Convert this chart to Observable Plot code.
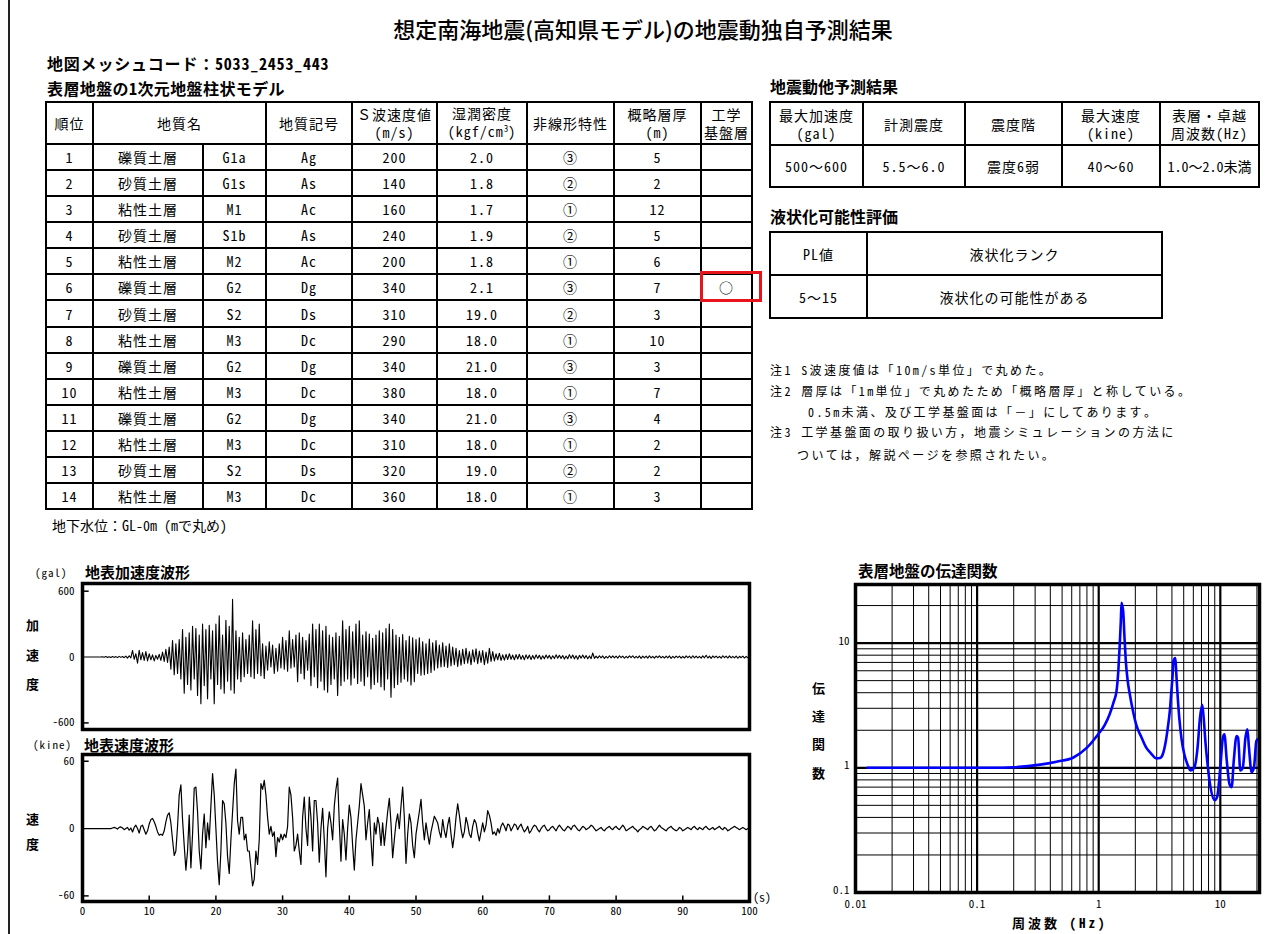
<!DOCTYPE html>
<html lang="ja"><head><meta charset="utf-8">
<script src="https://cdn.jsdelivr.net/npm/d3@7"></script>
<script src="https://cdn.jsdelivr.net/npm/@observablehq/plot@0.6"></script>
<style>
html,body{margin:0;padding:0;background:#fff}
body{width:1280px;height:934px;position:relative;overflow:hidden;color:#000;
 font-family:"Noto Sans Mono CJK JP","Noto Sans CJK JP","Noto Sans",sans-serif}
.t{position:absolute;white-space:pre;line-height:1;transform:translateY(-50%)}
.c{position:absolute;box-sizing:border-box;border:2px solid #000;display:flex;align-items:center;justify-content:center;text-align:center;font-size:14px;line-height:18px;letter-spacing:1px;white-space:nowrap}
.c span.l{display:block;line-height:18px}
.p{position:absolute}
.sup{position:relative;top:-5px;font-size:9px;letter-spacing:0}
</style></head><body>
<script>
// ---------------- data ----------------
const layerRank = [1,2,3,4,5,6,7,8,9,10,11,12,13,14];
const soilName = ["礫質土層","砂質土層","粘性土層","砂質土層","粘性土層","礫質土層","砂質土層","粘性土層","礫質土層","粘性土層","礫質土層","粘性土層","砂質土層","粘性土層"];
const soilCode = ["G1a","G1s","M1","S1b","M2","G2","S2","M3","G2","M3","G2","M3","S2","M3"];
const geoSymbol = ["Ag","As","Ac","As","Ac","Dg","Ds","Dc","Dg","Dc","Dg","Dc","Ds","Dc"];
const vsValue = [200,140,160,240,200,340,310,290,340,380,340,310,320,360];
const density = ["2.0","1.8","1.7","1.9","1.8","2.1","19.0","18.0","21.0","18.0","21.0","18.0","19.0","18.0"];
const nonlinear = ["③","②","①","②","①","③","②","①","③","①","③","①","②","①"];
const thickness = [5,2,12,5,6,7,3,10,3,7,4,2,2,3];
const baseLayer = ["","","","","","○","","","","","","","",""];
const layerHeaders = [["順位"],["地質名"],["地質記号"],["Ｓ波速度値","(m/s)"],["湿潤密度","(kgf/cm<span class=\"sup\">3</span>)"],["非線形特性"],["概略層厚","(m)"],["工学","基盤層"]];

const resultHeaders = [["最大加速度","(gal)"],["計測震度"],["震度階"],["最大速度","(kine)"],["表層・卓越","周波数(Hz)"]];
const resultValues = ["500～600","5.5～6.0","震度6弱","40～60","1.0～2.0未満"];
const liqHeaders = ["PL値","液状化ランク"];
const liqValues = ["5～15","液状化の可能性がある"];
const notes = [
 "注1 S波速度値は「10m/s単位」で丸めた。",
 "注2 層厚は「1m単位」で丸めたため「概略層厚」と称している。",
 "0.5m未満、及び工学基盤面は「－」にしてあります。",
 "注3 工学基盤面の取り扱い方，地震シミュレーションの方法に",
 "ついては，解説ページを参照されたい。"
];

// surface acceleration waveform (gal), sampled every 0.25 s
const accDt = 0.25;
const accel = [
 0,0,0,0,0,0,0,0,0,0,0,0,3,-2,4,-3,2,-4,5,-3,
 4,-5,6,-3,5,-6,8,-10,12,-8,60,-20,30,-55,62,-25,40,-30,50,-35,
 30,-25,20,-35,15,-20,25,-30,45,-40,70,-50,90,-110,150,-160,120,-150,160,-200,
 250,-330,180,-250,220,-300,280,-200,260,-350,200,-425,300,-260,250,-380,290,-200,240,-425,
 300,-250,375,-290,200,-330,335,-220,280,-300,525,-330,240,-200,180,-225,220,-180,160,-150,
 200,-180,330,-195,250,-150,300,-170,120,-195,100,-120,140,-90,110,-150,80,-130,120,-100,
 180,-110,150,-130,240,-100,160,-90,200,-225,220,-150,180,-200,150,-120,210,-260,300,-180,
 250,-280,300,-220,240,-300,280,-320,200,-250,180,-200,220,-350,190,-260,330,-220,250,-200,
 280,-255,230,-190,300,-240,330,-220,200,-260,230,-180,210,-290,170,-250,200,-230,240,-270,
 220,-300,260,-200,300,-365,250,-280,200,-250,180,-230,205,-200,150,-220,190,-255,175,-225,
 160,-150,175,-165,140,-160,120,-150,165,-140,130,-120,150,-100,110,-90,130,-85,100,-95,
 120,-80,90,-70,80,-85,60,-75,70,-60,80,-55,50,-70,65,-45,75,-60,55,-50,
 60,-70,45,-55,80,-40,50,-35,30,-25,35,-30,20,-28,25,-22,30,-20,18,-25,
 22,-18,25,-20,15,-24,20,-15,18,-22,14,-18,20,-12,16,-20,12,-15,18,-10,
 15,-18,12,-14,20,-10,16,-12,14,-18,10,-15,22,-12,18,-16,12,-20,15,-10,
 18,-12,14,-16,10,-14,37,-12,8,-10,12,-8,10,-12,6,-9,12,-8,10,-7,
 8,-10,12,-6,9,-11,7,-8,10,-6,12,-9,6,-8,10,-12,8,-7,9,-10,
 12,-8,7,-10,9,-6,11,-8,6,-9,8,-7,10,-12,7,-8,9,-6,8,-10,
 7,-9,10,-6,8,-11,12,-7,9,-8,6,-10,11,-7,16,-9,8,-12,10,-6,
 9,-8,7,-10,12,-6,8,-9,10,-7,6,-8,9,-11,7,-6,8,-9,6,-7,
 0
];

// surface velocity waveform (kine), sampled every 0.25 s
const velDt = 0.25;
const velocity = [
 0,0,0,0,0,0,0,0,0,0,0,0,0,0,0,0,0,0,0.5,1,
 0.5,-0.5,1,1.5,0.5,-1,0,1,-1.5,0.5,-3,1,3,0,-4,2,3,-1,-5,-2,
 4,8,9,6,2,-3,-6,-5,-6,-2,6,12,14,5,-10,-24,-20,2,30,39,
 8,-15,-37,-20,12,-35,-5,36,37,15,-20,-36,-5,13,-17,5,-10,20,49,30,
 0,-30,-50,-20,25,22,5,-25,-40,-10,15,40,53,7,-5,10,10,-10,-5,-20,
 -20,-35,-51,-45,-20,-32,-10,40,35,43,30,10,-5,2,-7,-3,-25,-8,-12,-5,
 -10,-5,-8,2,37,30,10,-20,-15,-5,-20,-32,10,28,0,-15,28,10,-20,25,
 25,5,-30,0,18,-10,-43,0,15,5,-10,20,35,45,5,-29,8,-5,-28,0,
 21,10,-15,-37,-10,5,20,40,30,20,-10,5,17,-10,-33,5,-5,10,3,-15,
 5,-15,0,15,27,5,-26,-10,5,13,0,20,37,10,-31,-5,13,5,-15,-26,
 -5,5,15,26,5,-10,5,-5,-14,-3,4,11,8,5,-3,-8,8,-2,-8,3,
 10,-5,-17,-6,10,22,12,0,-8,-3,10,4,-5,-8,2,8,5,-4,-11,-3,
 5,-3,3,16,12,5,-5,-3,-6,0,-4,2,5,2,-2,4,3,-2,1,4,
 3,-1,2,4,0,-3,-1,2,-4,-2,1,3,2,-1,-3,0,2,3,0,-2,
 -1,1,2,0,-2,1,3,1,-1,-2,0,2,1,-1,2,3,1,-1,-2,0,
 2,1,-1,0,1,3,2,0,-2,-1,0,1,-1,-2,0,1,2,0,-1,1,
 2,0,-1,1,3,1,-2,-1,0,1,2,0,-1,-3,-1,0,2,1,0,-1,
 1,2,0,-2,-1,1,3,1,0,-1,-2,0,1,2,0,-1,-2,-1,1,0,
 -2,-1,0,1,0,-1,1,2,0,-1,1,0,-1,1,2,0,-1,0,1,-1,
 0,1,2,0,-1,1,0,-2,-1,0,1,2,1,0,-1,0,1,0,-1,0,
 0
];

// transfer function of surface ground: [frequency Hz, amplitude]
const transfer = [
 [0.0125,1],[0.02,1],[0.05,1],[0.1,1],[0.13,1],[0.2,1.01],[0.33,1.06],[0.45,1.12],[0.62,1.21],[0.8,1.45],
 [0.99,1.86],[1.12,2.2],[1.23,2.69],[1.33,3.4],[1.40,4.1],[1.45,6.0],[1.49,9.8],[1.52,15],[1.54,21],[1.56,20],
 [1.59,18],[1.63,11],[1.67,7.2],[1.73,5.0],[1.80,3.9],[1.92,2.8],[2.04,2.2],[2.25,1.75],[2.46,1.45],[2.7,1.3],
 [2.97,1.19],[3.2,1.2],[3.37,1.29],[3.55,1.6],[3.70,2.1],[3.85,2.9],[3.94,3.9],[4.05,5.5],[4.12,7.2],[4.25,7.6],
 [4.38,5.0],[4.48,3.5],[4.6,2.5],[4.8,1.7],[5.05,1.29],[5.4,1.05],[5.7,0.95],[6.1,1.0],[6.5,1.45],[6.8,2.5],
 [7.1,3.2],[7.3,2.5],[7.55,1.6],[7.8,1.14],[8.3,0.70],[9.0,0.55],[9.4,0.58],[10.0,1.0],[10.5,1.75],[10.8,1.86],
 [11.3,1.14],[11.9,0.74],[12.4,0.70],[12.9,1.14],[13.6,1.8],[14.0,1.75],[14.6,0.95],[15.3,1.0],[16.1,1.75],[16.7,2.04],
 [17.2,1.45],[18.1,0.92],[18.9,1.0],[19.8,1.64],[20.4,1.7]
];

// axis ticks / grid values
const accTicks = [600,0,-600];
const velTicks = [60,0,-60];
const timeTicks = [0,10,20,30,40,50,60,70,80,90,100];
const freqMajor = [0.1,1,10];
const freqMinor = [0.02,0.03,0.04,0.05,0.06,0.07,0.08,0.09,0.2,0.3,0.4,0.5,0.6,0.7,0.8,0.9,2,3,4,5,6,7,8,9,20];
const ampMajor = [1,10];
const ampMinor = [0.2,0.3,0.4,0.5,0.6,0.7,0.8,0.9,2,3,4,5,6,7,8,9,20];
const freqLabels = [0.01,0.1,1,10];
const ampLabels = [0.1,1,10];

// ---------------- helpers ----------------
const root = document.body;
function T(x,y,s,o={}){
  const d=document.createElement('div');d.className='t';
  d.style.left=x+'px';d.style.top=y+'px';d.style.fontSize=(o.size||14)+'px';
  if(o.bold)d.style.fontWeight='700';
  if(o.weight)d.style.fontWeight=o.weight;
  if(o.ls!=null)d.style.letterSpacing=o.ls+'px';
  if(o.font)d.style.fontFamily=o.font;
  if(o.center)d.style.transform='translate(-50%,-50%)';
  d.innerHTML=s;root.appendChild(d);return d;
}
function C(x0,y0,x1,y1,content,o={}){
  const d=document.createElement('div');d.className='c';
  d.style.left=(x0-1)+'px';d.style.top=(y0-1)+'px';
  d.style.width=(x1-x0+2)+'px';d.style.height=(y1-y0+2)+'px';
  if(o.size)d.style.fontSize=o.size+'px';
  if(o.ls!=null)d.style.letterSpacing=o.ls+'px';
  const lines=Array.isArray(content)?content:[content];
  const w=document.createElement('div');
  w.innerHTML=lines.map(s=>'<span class="l">'+s+'</span>').join('');
  d.appendChild(w);root.appendChild(d);return d;
}
function P(x,y,node){const w=document.createElement('div');w.className='p';w.style.left=x+'px';w.style.top=y+'px';w.appendChild(node);root.appendChild(w);}

// page border (left)
{const b=document.createElement('div');b.className='p';b.style.cssText='left:8px;top:0;width:1.5px;height:934px;background:#222';root.appendChild(b);}

// ---------------- texts ----------------
T(643,28,"想定南海地震(高知県モデル)の地震動独自予測結果",{size:22,weight:500,center:true,font:'"Noto Sans CJK JP",sans-serif'});
T(47,63,"地図メッシュコード：5033_2453_443",{size:16,bold:true,ls:0.8});
T(47,88,"表層地盤の1次元地盤柱状モデル",{size:16,bold:true,ls:0.4});
T(770,86,"地震動他予測結果",{size:16,bold:true});
T(770,216,"液状化可能性評価",{size:16,bold:true});
T(52,525,"地下水位：GL-0m (mで丸め)",{size:14});

const noteX=[770,770,808,770,797], noteY=[370,391,412,432,455];
notes.forEach((s,i)=>T(noteX[i],noteY[i],s,{size:12,ls:2.4}));

// ---------------- layer table ----------------
const colX=[46,93,203,266,352,437,527,614,701,752];
const hdrTop=102, hdrBot=144, tblBot=509;
const rowY=i=>Math.round(hdrBot+i*(tblBot-hdrBot)/layerRank.length);
C(colX[0],hdrTop,colX[1],hdrBot,layerHeaders[0]);
C(colX[1],hdrTop,colX[3],hdrBot,layerHeaders[1]);
for(let k=2;k<layerHeaders.length;k++) C(colX[k+1],hdrTop,colX[k+2],hdrBot,layerHeaders[k]);
layerRank.forEach((r,i)=>{
  const y0=rowY(i),y1=rowY(i+1);
  const vals=[r,soilName[i],soilCode[i],geoSymbol[i],vsValue[i],density[i],nonlinear[i],thickness[i],baseLayer[i]];
  vals.forEach((v,k)=>C(colX[k],y0,colX[k+1],y1,String(v)));
});
// red highlight box
{const b=document.createElement('div');b.className='p';
 b.style.cssText=`left:700px;top:${rowY(5)-3}px;width:62px;height:${rowY(6)-rowY(5)+5}px;box-sizing:border-box;border:3px solid #e8141b`;root.appendChild(b);}

// ---------------- result table ----------------
const rX=[770,863,965,1062,1160,1259], rY=[102,145,187];
resultHeaders.forEach((h,k)=>C(rX[k],rY[0],rX[k+1],rY[1],h));
resultValues.forEach((v,k)=>C(rX[k],rY[1],rX[k+1],rY[2],v,{ls:k==4?0:1}));

const lX=[770,867,1162], lY=[232,275,318];
liqHeaders.forEach((h,k)=>C(lX[k],lY[0],lX[k+1],lY[1],h));
liqValues.forEach((v,k)=>C(lX[k],lY[1],lX[k+1],lY[2],v));

// ---------------- waveform plots ----------------
const plotStyle={fontFamily:'"Noto Sans Mono CJK JP","Noto Sans CJK JP",sans-serif',fontSize:"11px",background:"transparent",overflow:"visible",color:"#000"};
const fmt=d=>String(d);

const accData=accel.map((v,i)=>({t:i*accDt,v}));
const accPlot=Plot.plot({
  width:760,height:190,marginLeft:82,marginRight:11,marginTop:23,marginBottom:21,
  style:plotStyle,
  x:{domain:[0,100],axis:null},
  y:{domain:[-660,670],axis:null},
  marks:[
    Plot.line(accData,{x:"t",y:"v",stroke:"#000",strokeWidth:1.1}),
    Plot.ruleY([600,-600],{x1:0,x2:1,stroke:"#000",strokeWidth:1.5}),
    Plot.frame({stroke:"#000",strokeWidth:3.5}),
    Plot.axisY(accTicks,{tickSize:0,tickPadding:8,tickFormat:fmt,fontSize:11,label:null})
  ]
});
P(0,560,accPlot);
T(35,572,"(gal)",{size:11,ls:1});
T(85,571,"地表加速度波形",{size:15,bold:true});
["加","速","度"].forEach((c,i)=>T(26,[624,654,683][i],c,{size:13,bold:true}));

const velData=velocity.map((v,i)=>({t:i*velDt,v}));
const velPlot=Plot.plot({
  width:760,height:190,marginLeft:82,marginRight:11,marginTop:14,marginBottom:29,
  style:plotStyle,
  x:{domain:[0,100],axis:null},
  y:{domain:[-65,66],axis:null},
  marks:[
    Plot.line(velData,{x:"t",y:"v",stroke:"#000",strokeWidth:1.2}),
    Plot.ruleY([60,-60],{x1:0,x2:1,stroke:"#000",strokeWidth:1.5}),
    Plot.ruleX(timeTicks.slice(1,-1),{y1:-65,y2:-60,stroke:"#000",strokeWidth:1.5}),
    Plot.frame({stroke:"#000",strokeWidth:3.5}),
    Plot.axisY(velTicks,{tickSize:0,tickPadding:8,tickFormat:fmt,fontSize:11,label:null}),
    Plot.axisX(timeTicks,{tickSize:0,tickPadding:6,tickFormat:fmt,fontSize:11,label:null})
  ]
});
P(0,740,velPlot);
T(33,744,"(kine)",{size:11,ls:1});
T(84,744,"地表速度波形",{size:15,bold:true});
["速","度"].forEach((c,i)=>T(26,[818,843][i],c,{size:13,bold:true}));
T(753,897,"(s)",{size:12});

// ---------------- transfer function ----------------
const tfData=transfer.map(([f,a])=>({f,a}));
const tfPlot=Plot.plot({
  width:500,height:370,marginLeft:75,marginRight:21,marginTop:28,marginBottom:34,
  style:plotStyle,
  x:{type:"log",domain:[0.01,21],axis:null},
  y:{type:"log",domain:[0.1,29.5],axis:null},
  marks:[
    Plot.ruleX(freqMinor,{stroke:"#000",strokeWidth:1}),
    Plot.ruleY(ampMinor,{stroke:"#000",strokeWidth:1}),
    Plot.ruleX(freqMajor,{stroke:"#000",strokeWidth:2.2}),
    Plot.ruleY(ampMajor,{stroke:"#000",strokeWidth:2.2}),
    Plot.line(tfData,{x:"f",y:"a",stroke:"#0000ff",strokeWidth:2.6,curve:"monotone-x"}),
    Plot.frame({stroke:"#000",strokeWidth:3.5}),
    Plot.axisY(ampLabels,{tickSize:0,tickPadding:6,tickFormat:fmt,fontSize:11,label:null,dy:-2}),
    Plot.axisX(freqLabels,{tickSize:0,tickPadding:8,tickFormat:fmt,fontSize:11,label:null})
  ]
});
P(780,556,tfPlot);
T(858,571,"表層地盤の伝達関数",{size:15.5,bold:true});
["伝","達","関","数"].forEach((c,i)=>T(812,[687,715,743,772][i],c,{size:13,bold:true}));
T(1012,922,"周波数 (Hz)",{size:13,bold:true,ls:3});
</script></body></html>
